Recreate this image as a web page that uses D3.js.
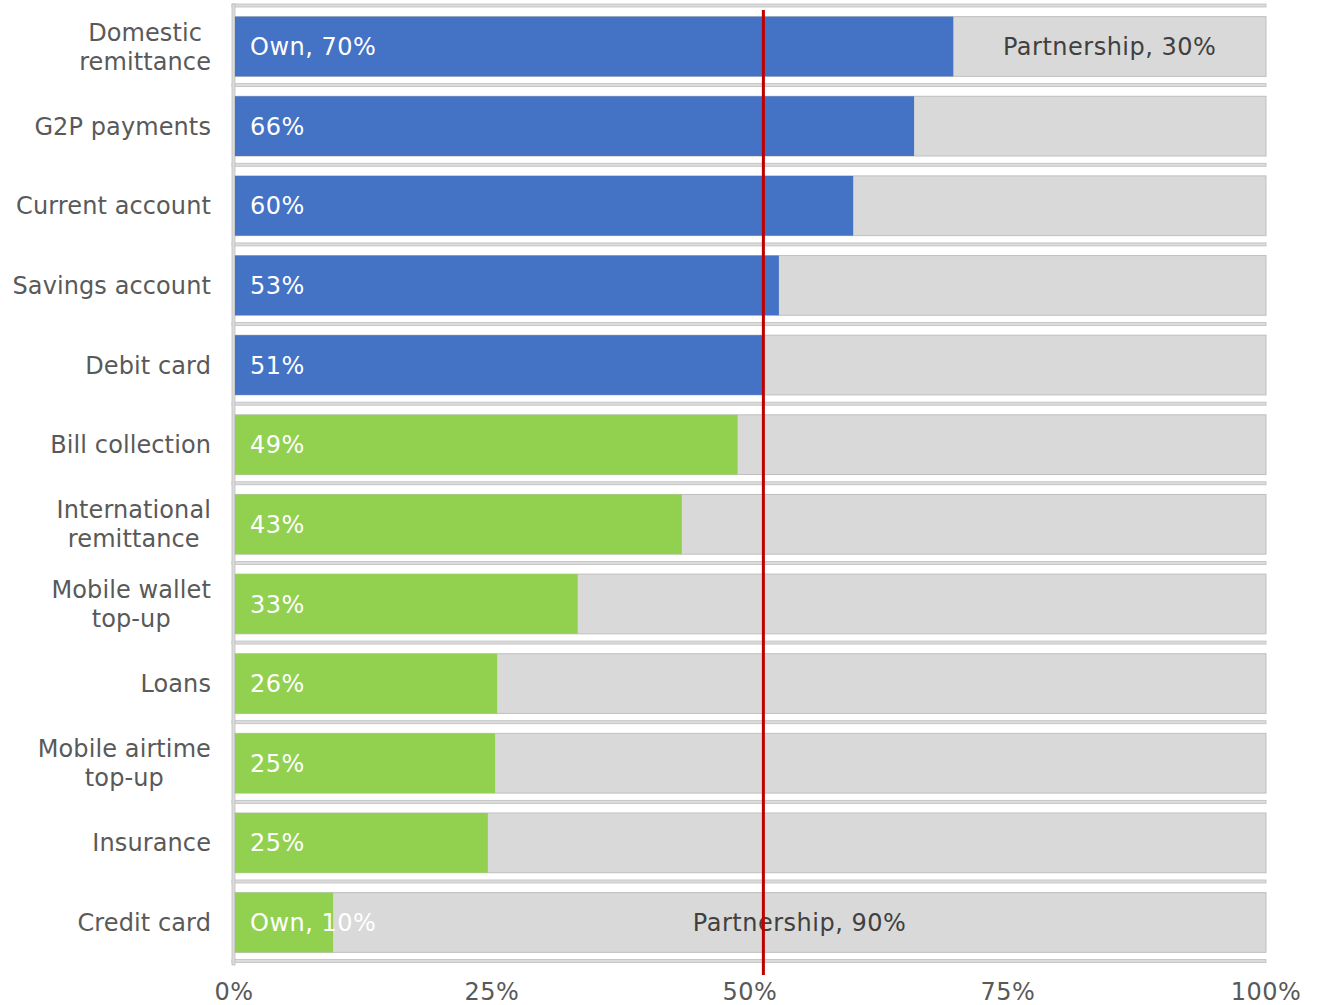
<!DOCTYPE html>
<html>
<head>
<meta charset="utf-8">
<script src="https://cdn.jsdelivr.net/npm/d3@7"></script>
<style>
  body { margin: 0; background: #fff; }
  text { font-family: "DejaVu Sans", Verdana, sans-serif; }
</style>
</head>
<body>
<div id="chart"></div>
<script>
// Categories (top to bottom), "\n" marks a line break in the label
const categories = [
    "Domestic\nremittance", "G2P payments", "Current account", "Savings account",
    "Debit card", "Bill collection", "International\nremittance", "Mobile wallet\ntop-up",
    "Loans", "Mobile airtime\ntop-up", "Insurance", "Credit card"
];
// Share offered on own (%); the rest is through partnership
const ownShare = [69.7, 65.9, 60.0, 52.8, 51.2, 48.8, 43.4, 33.3, 25.5, 25.3, 24.6, 9.6];
// Red reference line
const benchmark = 51.2;
const ticks = [0, 25, 50, 75, 100];

const data = categories.map((c, i) => ({ cat: c, own: ownShare[i], idx: i }));

const W = 1320, H = 1005;
const x0 = 234, x1 = 1266, yTop = 5.5, yBot = 963.5;

const svg = d3.select("#chart")
    .append("svg")
    .attr("width", W)
    .attr("height", H);

const x = d3.scaleLinear().domain([0, 100]).range([x0, x1]);
const y = d3.scaleBand()
    .domain(categories)
    .range([yTop, yBot])
    .paddingInner(0.25)
    .paddingOuter(0.14);

// Row separators (drawn at band boundaries)
const step = y.step();
const bounds = d3.range(categories.length + 1).map(i => yTop + i * step);
svg.append("g")
    .selectAll("rect")
    .data(bounds)
    .enter()
    .append("rect")
    .attr("x", x0 - 2)
    .attr("y", d => d - 1.5)
    .attr("width", x1 - x0 + 2)
    .attr("height", 3)
    .attr("fill", "#dcdcdc")
    .attr("stroke", "#bdbdbd")
    .attr("stroke-width", 0.8);

// Left axis line
svg.append("rect")
    .attr("x", x0 - 2)
    .attr("y", yTop - 1.5)
    .attr("width", 3)
    .attr("height", yBot - yTop + 3)
    .attr("fill", "#dcdcdc")
    .attr("stroke", "#bdbdbd")
    .attr("stroke-width", 0.8);

// Partnership (background) bars
svg.append("g")
    .selectAll("rect")
    .data(data)
    .enter()
    .append("rect")
    .attr("x", x(0) + 1)
    .attr("y", d => y(d.cat))
    .attr("width", x(100) - x(0) - 1)
    .attr("height", y.bandwidth())
    .attr("fill", "#d9d9d9")
    .attr("stroke", "#bfbfbf")
    .attr("stroke-width", 1);

// Own bars: blue at or above the benchmark, green below
svg.append("g")
    .selectAll("rect")
    .data(data)
    .enter()
    .append("rect")
    .attr("x", x(0) + 1)
    .attr("y", d => y(d.cat))
    .attr("width", d => x(d.own) - x(0) - 1)
    .attr("height", y.bandwidth())
    .attr("fill", d => d.own >= benchmark ? "#4472c4" : "#92d050");

// Own labels
svg.append("g")
    .selectAll("text")
    .data(data)
    .enter()
    .append("text")
    .attr("x", x(0) + 16)
    .attr("y", d => y(d.cat) + y.bandwidth() / 2)
    .attr("dy", "0.36em")
    .attr("fill", "#fff")
    .style("font-size", "24px")
    .style("letter-spacing", "0.5px")
    .text(d => {
        const v = Math.round(d.own) + "%";
        return (d.idx === 0 || d.idx === categories.length - 1) ? "Own, " + v : v;
    });

// Partnership labels (first and last row only)
const ends = [data[0], data[data.length - 1]];
svg.append("g")
    .selectAll("text")
    .data(ends)
    .enter()
    .append("text")
    .attr("x", d => (x(d.own) + x(100)) / 2)
    .attr("y", d => y(d.cat) + y.bandwidth() / 2)
    .attr("dy", "0.36em")
    .attr("text-anchor", "middle")
    .attr("fill", "#404040")
    .style("font-size", "24px")
    .style("letter-spacing", "0.5px")
    .text(d => "Partnership, " + (100 - Math.round(d.own)) + "%");

// Benchmark line
svg.append("line")
    .attr("x1", x(benchmark) + 1)
    .attr("x2", x(benchmark) + 1)
    .attr("y1", 10)
    .attr("y2", 975)
    .attr("stroke", "#c00000")
    .attr("stroke-width", 3);

// Category labels: block right-aligned, lines centred within the block
const labelRight = 211;
const catG = svg.append("g");
data.forEach(d => {
    const lines = d.cat.split("\n");
    const lh = 29;
    const cy = y(d.cat) + y.bandwidth() / 2;
    const t = catG.append("text")
        .attr("fill", "#595959")
        .attr("text-anchor", "middle")
        .style("font-size", "24px")
        .style("letter-spacing", "0.1px");
    lines.forEach((ln, j) => {
        t.append("tspan")
            .attr("y", cy + (j - (lines.length - 1) / 2) * lh)
            .attr("dy", "0.36em")
            .text(ln);
    });
    const spans = t.selectAll("tspan").nodes();
    const maxW = d3.max(spans, n => n.getComputedTextLength());
    t.selectAll("tspan").attr("x", labelRight - maxW / 2);
});

// X tick labels
svg.append("g")
    .selectAll("text")
    .data(ticks)
    .enter()
    .append("text")
    .attr("x", d => x(d))
    .attr("y", 1000)
    .attr("text-anchor", "middle")
    .attr("fill", "#595959")
    .style("font-size", "24px")
    .style("letter-spacing", "0.5px")
    .text(d => d + "%");
</script>
</body>
</html>
